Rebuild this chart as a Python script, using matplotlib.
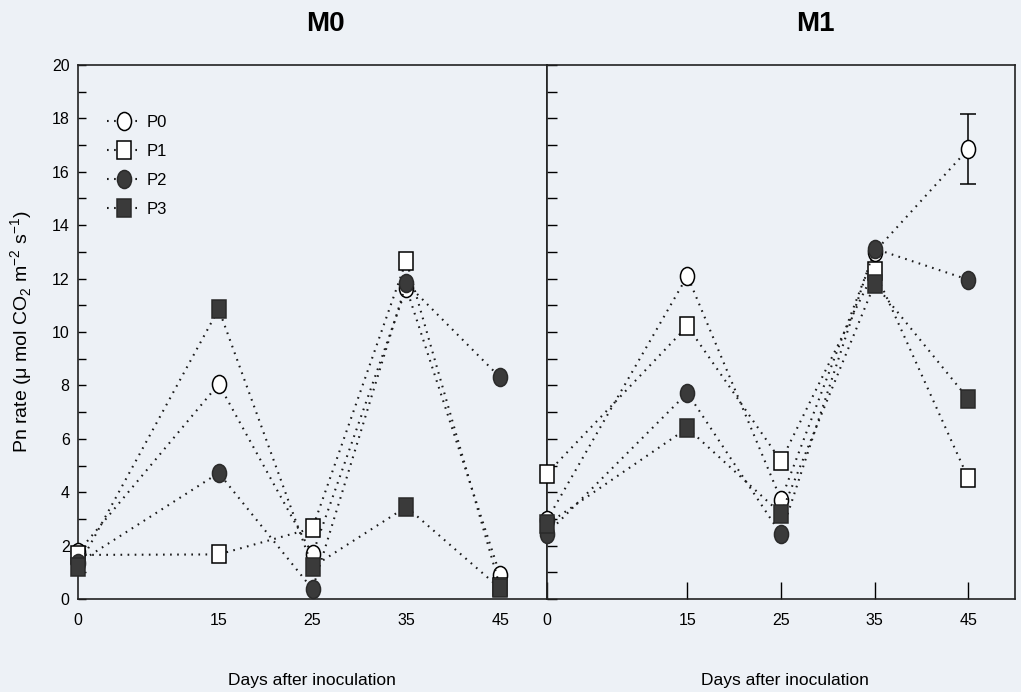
import matplotlib
matplotlib.use("Agg")
import matplotlib.pyplot as plt
from matplotlib.markers import MarkerStyle
from matplotlib.transforms import Affine2D
from matplotlib.ticker import MultipleLocator

days = [0, 15, 25, 35, 45]
series = ["P0", "P1", "P2", "P3"]

m0_p0 = [1.75, 8.05, 1.67, 11.65, 0.9]
m0_p1 = [1.65, 1.67, 2.65, 12.67, 0.45]
m0_p2 = [1.35, 4.72, 0.37, 11.83, 8.3]
m0_p3 = [1.2, 10.86, 1.2, 3.45, 0.4]

m1_p0 = [2.96, 12.1, 3.72, 13.0, 16.85]
m1_p1 = [4.7, 10.22, 5.17, 12.3, 4.53]
m1_p2 = [2.45, 7.72, 2.42, 13.12, 11.96]
m1_p3 = [2.8, 6.4, 3.2, 11.8, 7.5]

m1_p0_err = [0, 0, 0, 0, 1.3]

x_ticks = [0, 15, 25, 35, 45]
y_ticks = [0, 2, 4, 6, 8, 10, 12, 14, 16, 18, 20]

bg = "#edf1f6"
plt.rcParams['font.family'] = ['Liberation Sans', 'DejaVu Sans']
plt.rcParams['mathtext.fontset'] = 'custom'
plt.rcParams['mathtext.rm'] = 'Liberation Sans'

fig = plt.figure(figsize=(10.21, 6.92), dpi=100, facecolor=bg)
axL = fig.add_axes([78/1021, 93/692, 469/1021, 534/692])
axR = fig.add_axes([547/1021, 93/692, 468/1021, 534/692])

ell = Affine2D().scale(0.78, 1.0)
sq = Affine2D().scale(0.8, 1.0)
styles = {
    "P0": dict(marker=MarkerStyle('o', transform=ell), mfc='white', mec='black'),
    "P1": dict(marker=MarkerStyle('s', transform=sq), mfc='white', mec='black'),
    "P2": dict(marker=MarkerStyle('o', transform=ell), mfc='#3a3a3a', mec='#2a2a2a'),
    "P3": dict(marker=MarkerStyle('s', transform=sq), mfc='#3a3a3a', mec='#2a2a2a'),
}
dot = (0, (0.8, 2.6))

for ax, data in [(axL, [m0_p0, m0_p1, m0_p2, m0_p3]), (axR, [m1_p0, m1_p1, m1_p2, m1_p3])]:
    ax.set_facecolor(bg)
    for name, vals in zip(series, data):
        st = styles[name]
        ax.plot(days, vals, linestyle=dot, color='#1a1a1a', lw=1.5,
                marker=st['marker'], ms=13, mfc=st['mfc'], mec=st['mec'],
                mew=1.1, clip_on=False, label=name, zorder=3)
    ax.set_xlim(0, 50)
    ax.set_ylim(0, 20)
    for s in ax.spines.values():
        s.set_linewidth(1.2)
        s.set_color('#222222')

axR.errorbar([days[4]], [m1_p0[4]], yerr=[m1_p0_err[4]], fmt='none',
             ecolor='black', elinewidth=1.1, capsize=6, capthick=1.1, zorder=2)

# left axis ticks
axL.set_yticks(y_ticks)
axL.yaxis.set_minor_locator(MultipleLocator(1))
axL.tick_params(axis='y', which='major', direction='in', length=6, width=1,
                labelsize=11.5, pad=6)
axL.tick_params(axis='y', which='minor', direction='in', length=6, width=1)
axL.set_xticks(x_ticks)
axL.tick_params(axis='x', direction='in', length=0, labelsize=11.5, pad=10)

axR.set_yticks([])
axR.yaxis.set_minor_locator(MultipleLocator(1))
axR.tick_params(axis='y', which='minor', direction='in', length=7, width=1, labelleft=False)
axR.set_xticks(x_ticks)
axR.tick_params(axis='x', direction='in', length=12, width=1, labelsize=11.5, pad=10)

axL.set_ylabel("Pn rate (\u03bc mol CO$_2$ m$^{-2}$ s$^{-1}$)", fontsize=14, labelpad=12)

for xc in [312, 785]:
    fig.text(xc/1021, 1 - 680/692, "Days after inoculation", ha='center', va='center',
             fontsize=12.5)

fig.text(325/1021, 1 - 24/692, "M0", ha='center', va='center', fontsize=20,
         fontweight='bold')
fig.text(815/1021, 1 - 24/692, "M1", ha='center', va='center', fontsize=20,
         fontweight='bold')

leg = axL.legend(loc='upper left', bbox_to_anchor=(0.03, 0.935), frameon=False,
                 fontsize=12, handlelength=2.0, handletextpad=0.4, labelspacing=0.85,
                 markerscale=1.0)

fig.savefig("out.png", dpi=100, facecolor=bg)
